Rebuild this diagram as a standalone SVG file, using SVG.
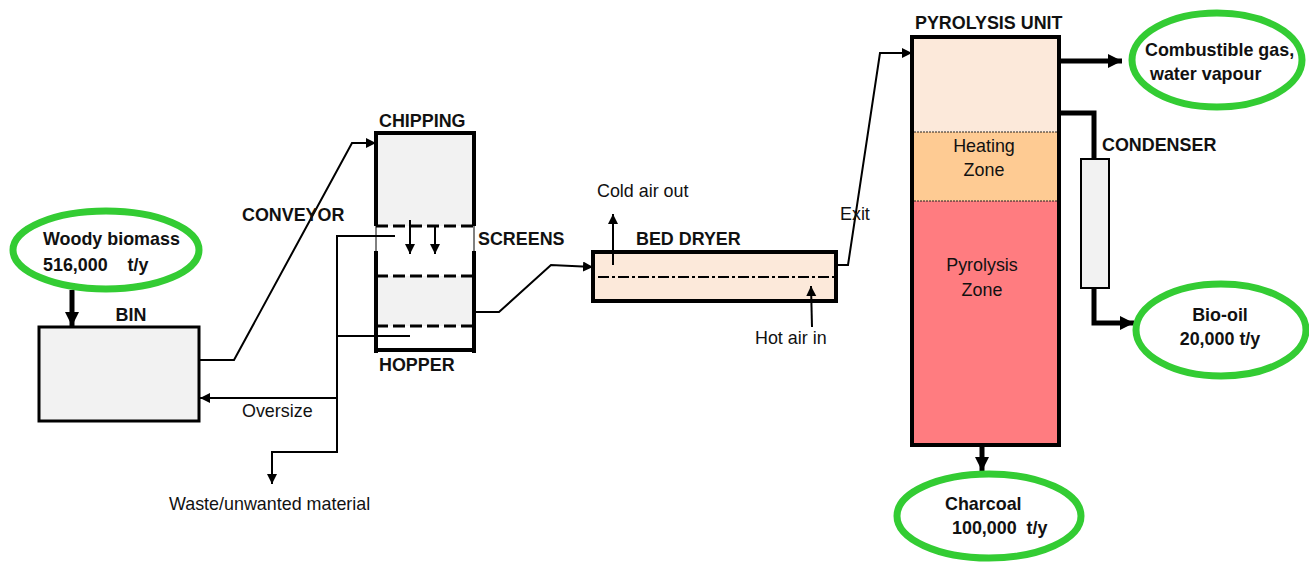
<svg xmlns="http://www.w3.org/2000/svg" width="1309" height="562" viewBox="0 0 1309 562">
<style>
text{font-family:"Liberation Sans",Arial,sans-serif;fill:#111;font-size:17.9px}
.b{font-weight:700}
.m{text-anchor:middle}
.t{fill:none;stroke:#000;stroke-width:2}
.k{fill:none;stroke:#000;stroke-width:5}
.e{fill:#fff;stroke:#33cc33;stroke-width:7}
.u{stroke:#000;stroke-width:3;stroke-dasharray:12 5;fill:none}
</style>
<defs>
<marker id="a" markerUnits="userSpaceOnUse" markerWidth="12" markerHeight="12" refX="10" refY="5" orient="auto"><path d="M0 0L10 5L0 10Z"/></marker>
<marker id="A" markerUnits="userSpaceOnUse" markerWidth="16" markerHeight="16" refX="14" refY="7" orient="auto"><path d="M0 0L14 7L0 14Z"/></marker>
</defs>
<g id="connectors">
<path class="t" marker-end="url(#a)" d="M200 360H234L352 143H376"/>
<path class="t" marker-end="url(#a)" d="M474 312H499L551 265L593 267"/>
<path class="t" marker-end="url(#a)" d="M836 265H848L880 53H912"/>
<path class="t" marker-end="url(#a)" d="M395 236H337V398H200"/>
<path class="t" d="M410 336H337"/>
<path class="t" marker-end="url(#a)" d="M337 398V452H272V484"/>
<path class="k" marker-end="url(#A)" d="M72 290V326"/>
<path class="k" marker-end="url(#A)" d="M1060 61H1122"/>
<path class="k" d="M1060 113H1094V159"/>
<path class="k" marker-end="url(#A)" d="M1094 288V323H1134"/>
<path class="k" marker-end="url(#A)" d="M982 446V471"/>
</g>
<g id="bin"><rect x="39" y="327" width="160" height="94" fill="#f2f2f2" stroke="#000" stroke-width="3"/><text class="b" x="131" y="321" text-anchor="middle">BIN</text></g>
<g id="woody-biomass"><ellipse class="e" cx="106" cy="250" rx="93" ry="39"/><text class="b" x="43" y="245">Woody biomass</text><text class="b" x="43" y="271" xml:space="preserve">516,000    t/y</text></g>
<g id="chipping">
<rect x="376" y="133" width="97" height="93" fill="#f2f2f2"/><rect x="376" y="276" width="97" height="50" fill="#f2f2f2"/>
<path d="M376 131V226M474 131V226M376 251V353M474 251V353" class="k" style="stroke-width:4"/><path d="M374 133H476M374 350H476" class="k" style="stroke-width:4"/><path d="M376 226V251M474 226V251" stroke="#000" fill="none"/>
<path class="u" d="M376 226H473M376 276H473M376 326H473"/>
<text class="b" x="379" y="127">CHIPPING</text><text class="b" x="379" y="371">HOPPER</text><text class="b" x="478" y="245">SCREENS</text>
<path class="t" marker-end="url(#a)" d="M410 220V254"/><path class="t" marker-end="url(#a)" d="M435 226V254"/>
</g>
<g id="conveyor"><text class="b" x="242" y="221">CONVEYOR</text></g>
<g id="bed-dryer">
<rect x="593" y="252" width="243" height="49" fill="#fce9da" stroke="#000" stroke-width="4"/>
<path d="M598 277H836" stroke="#000" stroke-width="2" stroke-dasharray="11 3 3 3" fill="none"/>
<text class="b" x="636" y="245">BED DRYER</text>
<path class="t" marker-end="url(#a)" d="M613 265V214"/><path class="t" marker-end="url(#a)" d="M812 327L811 286"/>
<text x="597" y="197">Cold air out</text><text x="755" y="344">Hot air in</text>
</g>
<g id="exit-label"><text x="840" y="220">Exit</text></g>
<g id="pyrolysis">
<rect x="912" y="37" width="147" height="95" fill="#fce9da"/><rect x="912" y="132" width="147" height="69" fill="#fecb93"/><rect x="912" y="201" width="147" height="244" fill="#ff7c80"/>
<rect x="912" y="37" width="147" height="408" fill="none" stroke="#000" stroke-width="4"/>
<path d="M914 132H1057M914 201H1057" stroke="#222" stroke-width="1" stroke-dasharray="2 1" fill="none"/>
<text class="b" x="915" y="29">PYROLYSIS UNIT</text>
<text class="m" x="984" y="152">Heating</text><text class="m" x="984" y="176">Zone</text>
<text class="m" x="982" y="271">Pyrolysis</text><text class="m" x="982" y="296">Zone</text>
</g>
<g id="condenser"><rect x="1081" y="159" width="28" height="129" fill="#f2f2f2" stroke="#000" stroke-width="2"/><text class="b" x="1102" y="151">CONDENSER</text></g>
<g id="gas"><ellipse class="e" cx="1217" cy="60" rx="85" ry="47"/><text class="b" x="1145" y="56">Combustible gas,</text><text class="b" x="1150" y="80">water vapour</text></g>
<g id="bio-oil"><ellipse class="e" cx="1221" cy="330" rx="85" ry="46"/><text class="b m" x="1220" y="321">Bio-oil</text><text class="b m" x="1220" y="345">20,000 t/y</text></g>
<g id="charcoal"><ellipse class="e" cx="989" cy="516" rx="92" ry="42"/><text class="b" x="945" y="510">Charcoal</text><text class="b" x="952" y="534" xml:space="preserve">100,000  t/y</text></g>
<g id="labels"><text x="242" y="417">Oversize</text><text x="169" y="510">Waste/unwanted material</text></g>
</svg>
